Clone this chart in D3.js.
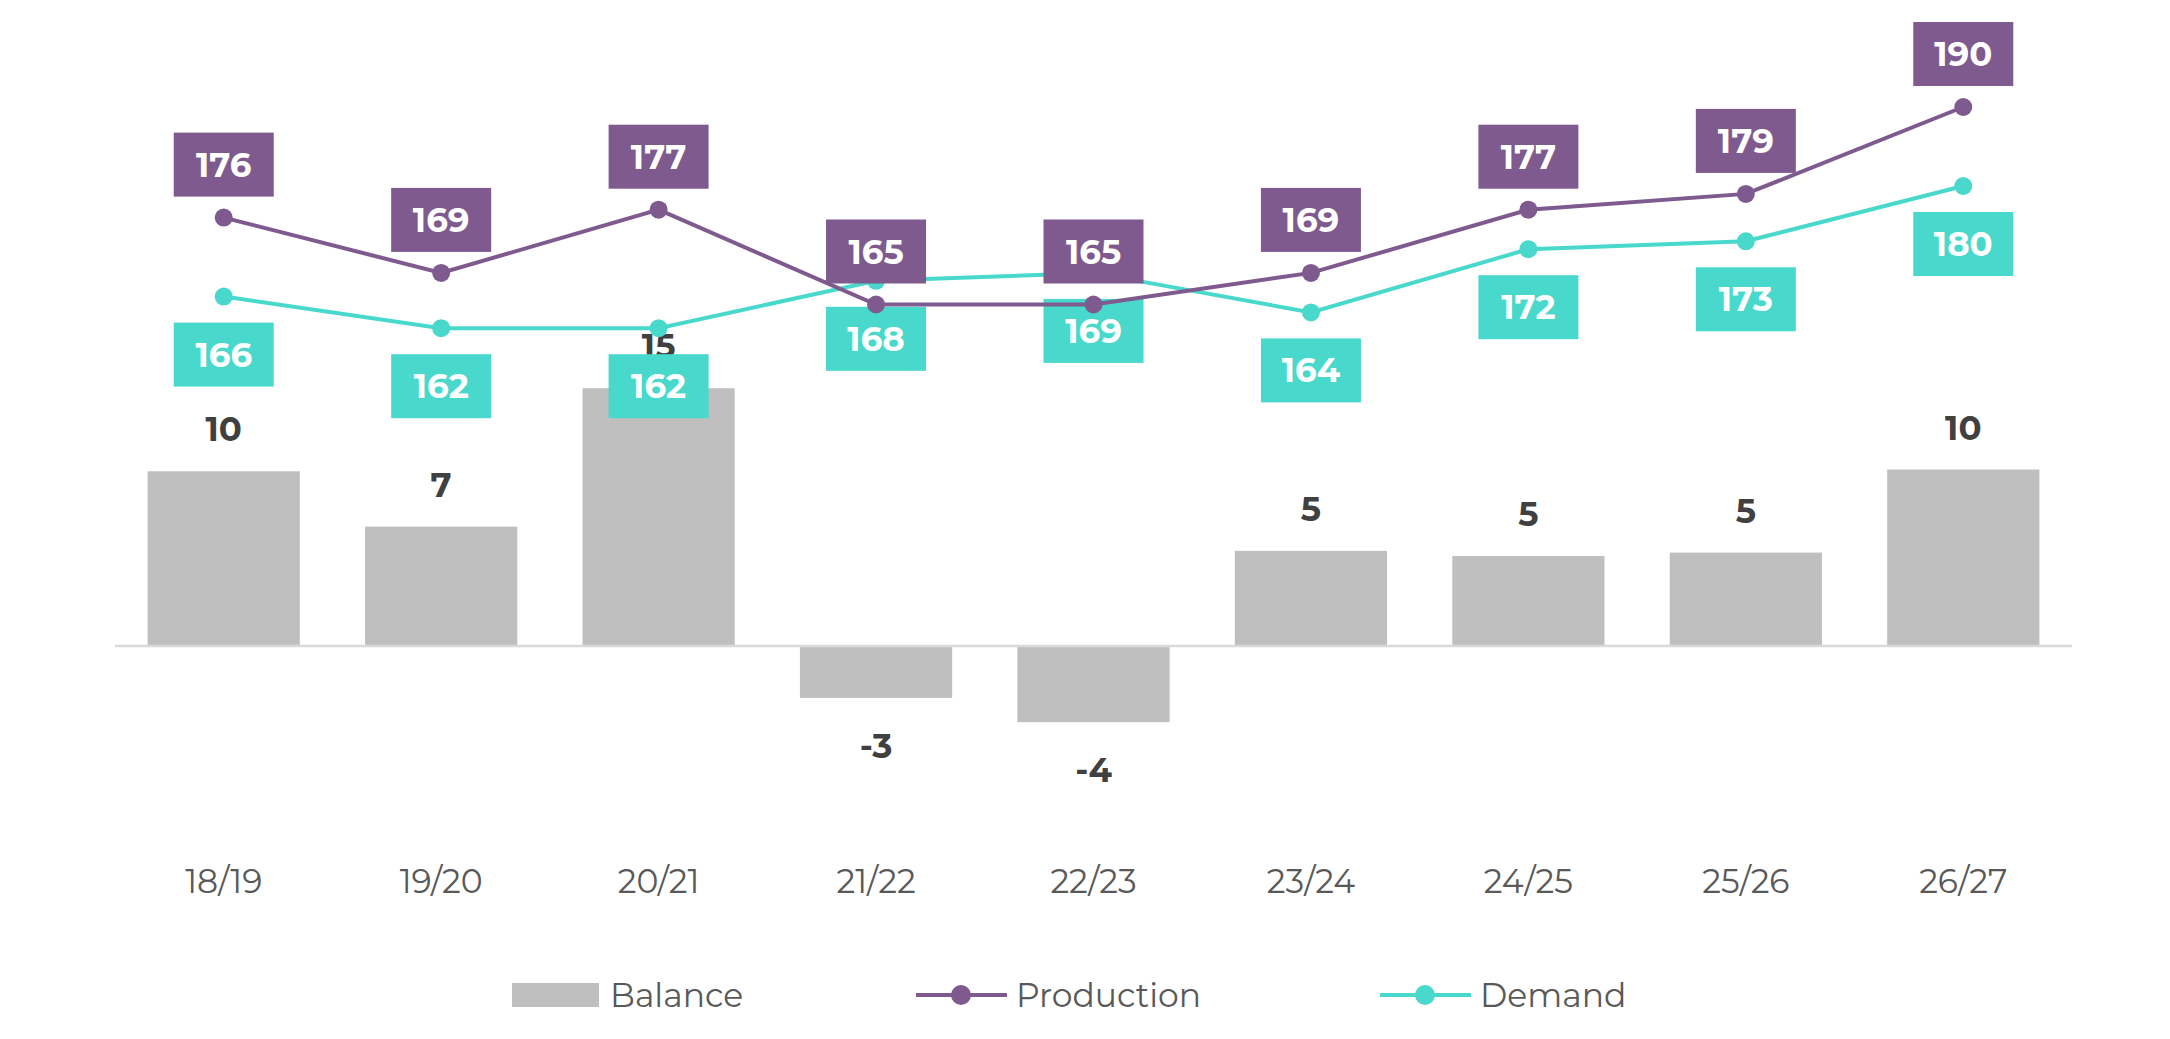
<!DOCTYPE html>
<html><head><meta charset="utf-8">
<script src="https://cdn.jsdelivr.net/npm/d3@7"></script>
<style>body{margin:0;background:#fff}text{font-family:Montserrat,"Open Sans",Lato,sans-serif}</style>
</head><body><svg id="c" width="2170" height="1039"></svg>
<script>
const categories=["18/19","19/20","20/21","21/22","22/23","23/24","24/25","25/26","26/27"];
const balance=[10.1,6.9,14.9,-3.0,-4.4,5.5,5.2,5.4,10.2];
const balanceLabels=["10","7","15","-3","-4","5","5","5","10"];
const production=[176,169,177,165,165,169,177,179,190];
const demand=[166,162,162,168,169,164,172,173,180];
const purple="#7e5a8e", teal="#48d9cc", grey="#bfbfbf";
const svg=d3.select("#c");
const x=d3.scaleBand().domain(categories).range([115,2072]).paddingInner(0.3).paddingOuter(0.15);
const yb=d3.scaleLinear().domain([0,10]).range([646,473]);
const yl=d3.scaleLinear().domain([150,200]).range([423,28]);
const cx=c=>x(c)+x.bandwidth()/2;
svg.selectAll("rect.bar").data(balance).join("rect").attr("x",(d,i)=>x(categories[i])).attr("width",x.bandwidth())
 .attr("y",d=>Math.min(yb(d),yb(0))).attr("height",d=>Math.abs(yb(d)-yb(0))).attr("fill",grey);
svg.append("line").attr("x1",115).attr("x2",2072).attr("y1",yb(0)).attr("y2",yb(0)).attr("stroke","#d9d9d9").attr("stroke-width",2.5);
svg.selectAll("text.bl").data(balance).join("text").attr("x",(d,i)=>cx(categories[i]))
 .attr("y",d=>d>=0?yb(d)-30:yb(d)+60).attr("text-anchor","middle").attr("font-size",34).attr("font-weight",700).attr("fill","#404040")
 .text((d,i)=>balanceLabels[i]);
svg.append("g").selectAll("text").data(categories).join("text").attr("x",d=>cx(d)).attr("y",893).attr("text-anchor","middle")
 .attr("font-size",33).attr("fill","#595959").text(d=>d);
function series(vals,col,up){
 const line=d3.line().x((d,i)=>cx(categories[i])).y(d=>yl(d));
 svg.append("path").datum(vals).attr("d",line).attr("fill","none").attr("stroke",col).attr("stroke-width",4);
 svg.append("g").selectAll("circle").data(vals).join("circle").attr("cx",(d,i)=>cx(categories[i])).attr("cy",d=>yl(d)).attr("r",9).attr("fill",col);
 const g=svg.append("g").selectAll("g").data(vals).join("g").attr("transform",(d,i)=>`translate(${cx(categories[i])},${yl(d)+(up?-53:58)})`);
 g.append("rect").attr("x",-50).attr("y",-32).attr("width",100).attr("height",64).attr("fill",col);
 g.append("text").attr("text-anchor","middle").attr("dy",12).attr("font-size",34).attr("font-weight",700).attr("fill","#fff").text(d=>d);
}
series(demand,teal,false);
series(production,purple,true);
const lg=svg.append("g").attr("font-size",33).attr("fill","#595959");
lg.append("rect").attr("x",512).attr("y",983).attr("width",87).attr("height",24).attr("fill",grey);
lg.append("text").attr("x",610).attr("y",1007).text("Balance").attr("fill","#595959");
[[916,purple,"Production"],[1380,teal,"Demand"]].forEach(([lx,c,t])=>{
 lg.append("line").attr("x1",lx).attr("x2",lx+91).attr("y1",995).attr("y2",995).attr("stroke",c).attr("stroke-width",4);
 lg.append("circle").attr("cx",lx+45).attr("cy",995).attr("r",10).attr("fill",c);
 lg.append("text").attr("x",lx+100).attr("y",1007).text(t).attr("fill","#595959");
});
</script></body></html>
